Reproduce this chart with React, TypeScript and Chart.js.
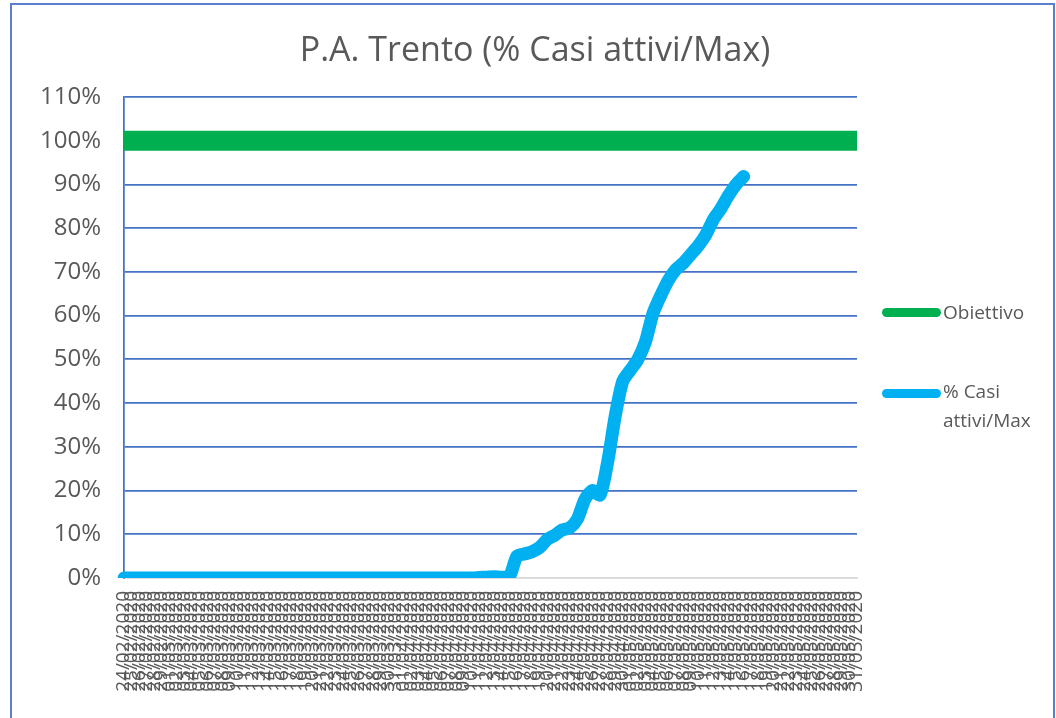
import React, { useEffect, useRef } from "react";
import { Chart, registerables } from "chart.js";

Chart.register(...registerables);

const TITLE = "P.A. Trento (% Casi attivi/Max)";

const LABELS = [
  "24/02/2020", "25/02/2020", "26/02/2020", "27/02/2020", "28/02/2020", "29/02/2020",
  "01/03/2020", "02/03/2020", "03/03/2020", "04/03/2020", "05/03/2020", "06/03/2020", "07/03/2020",
  "08/03/2020", "09/03/2020", "10/03/2020", "11/03/2020", "12/03/2020", "13/03/2020", "14/03/2020",
  "15/03/2020", "16/03/2020", "17/03/2020", "18/03/2020", "19/03/2020", "20/03/2020", "21/03/2020",
  "22/03/2020", "23/03/2020", "24/03/2020", "25/03/2020", "26/03/2020", "27/03/2020", "28/03/2020",
  "29/03/2020", "30/03/2020", "31/03/2020",
  "01/04/2020", "02/04/2020", "03/04/2020", "04/04/2020", "05/04/2020", "06/04/2020", "07/04/2020",
  "08/04/2020", "09/04/2020", "10/04/2020", "11/04/2020", "12/04/2020", "13/04/2020", "14/04/2020",
  "15/04/2020", "16/04/2020", "17/04/2020", "18/04/2020", "19/04/2020", "20/04/2020", "21/04/2020",
  "22/04/2020", "23/04/2020", "24/04/2020", "25/04/2020", "26/04/2020", "27/04/2020", "28/04/2020",
  "29/04/2020", "30/04/2020",
  "01/05/2020", "02/05/2020", "03/05/2020", "04/05/2020", "05/05/2020", "06/05/2020", "07/05/2020",
  "08/05/2020", "09/05/2020", "10/05/2020", "11/05/2020", "12/05/2020", "13/05/2020", "14/05/2020",
  "15/05/2020", "16/05/2020", "17/05/2020", "18/05/2020", "19/05/2020", "20/05/2020", "21/05/2020",
  "22/05/2020", "23/05/2020", "24/05/2020", "25/05/2020", "26/05/2020", "27/05/2020", "28/05/2020",
  "29/05/2020", "30/05/2020", "31/05/2020",
];

const OBIETTIVO = [
  100, 100, 100, 100, 100, 100, 100, 100, 100, 100, 100, 100, 100, 100,
  100, 100, 100, 100, 100, 100, 100, 100, 100, 100, 100, 100, 100, 100,
  100, 100, 100, 100, 100, 100, 100, 100, 100, 100, 100, 100, 100, 100,
  100, 100, 100, 100, 100, 100, 100, 100, 100, 100, 100, 100, 100, 100,
  100, 100, 100, 100, 100, 100, 100, 100, 100, 100, 100, 100, 100, 100,
  100, 100, 100, 100, 100, 100, 100, 100, 100, 100, 100, 100, 100, 100,
  100, 100, 100, 100, 100, 100, 100, 100, 100, 100, 100, 100, 100, 100,
];

const CASI_ATTIVI_MAX = [
  0, 0, 0, 0, 0, 0, 0, 0, 0, 0, 0, 0, 0, 0, 0,
  0, 0, 0, 0, 0, 0, 0, 0, 0, 0, 0, 0, 0, 0, 0,
  0, 0, 0, 0, 0, 0, 0, 0, 0, 0, 0, 0, 0, 0, 0,
  0, 0, 0.1, 0.2, 0.3, 0.2, 0.3,
  5.0, 5.5, 6.0, 7.0, 8.8, 9.8, 11.0, 11.5, 13.5, 18.0,
  20.0, 19.0, 26.5, 37.0, 45.0, 47.5, 50.0, 54.0, 60.5, 64.5,
  68.0, 70.5, 72.0, 74.0, 76.0, 78.5, 82.0, 84.5, 87.5, 90.0,
  91.8,
];

const Y_MIN = 0;
const Y_MAX = 110;
const Y_STEP = 10;

const TEXT = "#595959";
const FONT = "'Open Sans', 'Liberation Sans', sans-serif";

export default function App() {
  const ref = useRef<HTMLCanvasElement>(null);

  useEffect(() => {
    if (!ref.current) return;
    const chart = new Chart(ref.current, {
      type: "line",
      data: {
        labels: LABELS,
        datasets: [
          {
            label: "Obiettivo",
            data: OBIETTIVO,
            borderColor: "#00B050",
            backgroundColor: "#00B050",
            borderWidth: 20,
            pointRadius: 0,
            borderCapStyle: "butt",
            borderJoinStyle: "round",
            fill: false,
          },
          {
            label: "% Casi attivi/Max",
            data: CASI_ATTIVI_MAX,
            borderColor: "#00B0F0",
            backgroundColor: "#00B0F0",
            borderWidth: 13,
            pointRadius: 0,
            tension: 0.25,
            borderCapStyle: "round",
            borderJoinStyle: "round",
            fill: false,
          },
        ],
      },
      options: {
        responsive: false,
        animation: false,
        layout: { padding: { left: 0, right: 199, top: 97, bottom: 0 } },
        plugins: {
          legend: { display: false },
          tooltip: { enabled: false },
          title: { display: false },
        },
        scales: {
          x: {
            grid: { display: false, drawTicks: false },
            border: { color: "#D9D9D9", width: 1.5 },
            ticks: {
              autoSkip: false,
              maxRotation: 90,
              minRotation: 90,
              color: TEXT,
              font: { family: FONT, size: 19 },
              padding: 13,
            },
            afterFit: (s: any) => {
              s.height = 140;
            },
          },
          y: {
            min: Y_MIN,
            max: Y_MAX,
            ticks: {
              stepSize: Y_STEP,
              color: TEXT,
              font: { family: FONT, size: 24 },
              padding: 23,
              callback: (v: any) => `${Math.round(Number(v))}%`,
            },
            grid: {
              drawTicks: false,
              lineWidth: 1.75,
              color: (ctx: any) => (ctx.tick && ctx.tick.value === 0 ? "#D9D9D9" : "#4472C4"),
            },
            border: { color: "#4472C4", width: 1.75 },
            afterFit: (s: any) => {
              s.width = 124;
            },
          },
        },
      },
    });
    return () => chart.destroy();
  }, []);

  return (
    <div
      style={{
        position: "fixed",
        left: 0,
        top: 0,
        width: 1056,
        height: 718,
        overflow: "hidden",
        background: "#fff",
        fontFamily: FONT,
      }}
    >
      <div
        style={{
          position: "absolute",
          left: 10,
          top: 3,
          width: 1041,
          height: 740,
          border: "2px solid #5B7FCC",
        }}
      />
      <canvas ref={ref} width={1056} height={718} style={{ position: "absolute", left: 0, top: 0 }} />
      <div
        style={{
          position: "absolute",
          left: 0,
          width: 1070,
          top: 25,
          lineHeight: "46px",
          textAlign: "center",
          fontSize: 34,
          color: TEXT,
        }}
      >
        {TITLE}
      </div>
      <div
        style={{
          position: "absolute",
          left: 882,
          top: 308,
          width: 59,
          height: 9,
          borderRadius: 4.5,
          background: "#00B050",
        }}
      />
      <div
        style={{
          position: "absolute",
          left: 943,
          top: 298,
          lineHeight: "29px",
          fontSize: 19,
          color: TEXT,
        }}
      >
        Obiettivo
      </div>
      <div
        style={{
          position: "absolute",
          left: 882,
          top: 389,
          width: 59,
          height: 9,
          borderRadius: 4.5,
          background: "#00B0F0",
        }}
      />
      <div
        style={{
          position: "absolute",
          left: 943,
          top: 377,
          lineHeight: "29px",
          fontSize: 19,
          color: TEXT,
        }}
      >
        % Casi
        <br />
        attivi/Max
      </div>
    </div>
  );
}
